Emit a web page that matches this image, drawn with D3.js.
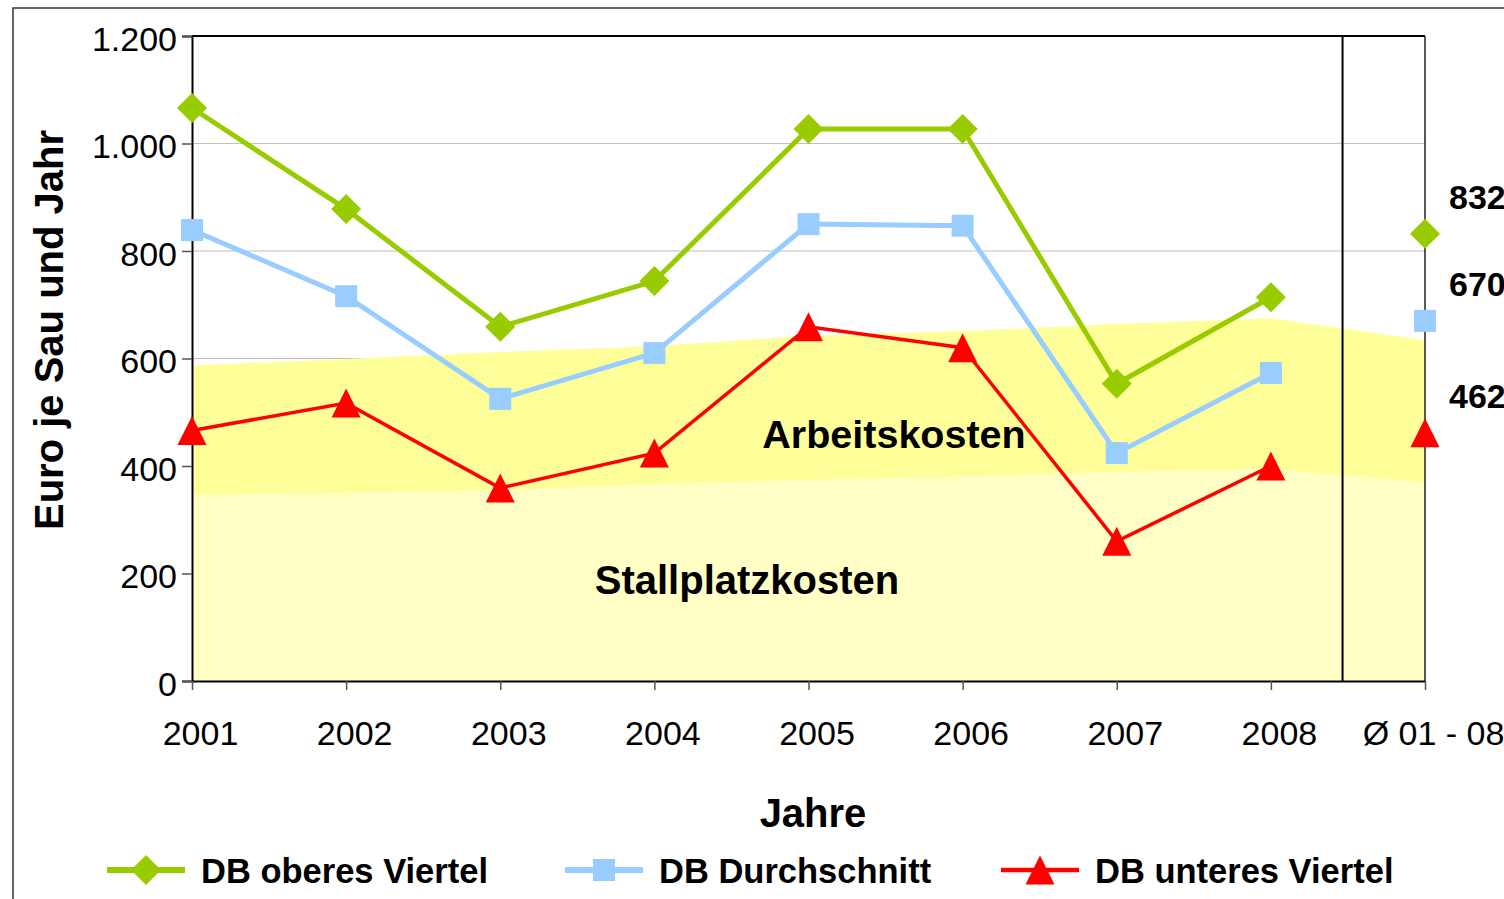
<!DOCTYPE html>
<html>
<head>
<meta charset="utf-8">
<script src="https://cdn.jsdelivr.net/npm/d3@7"></script>
<style>
  body { margin: 0; background: #fff; }
  #canvas { width: 1504px; height: 899px; }
  text { font-family: "Liberation Sans", Arial, Helvetica, sans-serif; }
</style>
</head>
<body>
<div id="canvas"></div>
<script>
// data
var years = ['2001', '2002', '2003', '2004', '2005', '2006', '2007', '2008', 'Ø 01 - 08'];
var oberesViertel = [1066, 878, 659, 744, 1027, 1027, 553, 714, 832];
var durchschnitt = [839, 716, 525, 610, 850, 847, 424, 573, 670];
var unteresViertel = [466, 517, 359, 424, 659, 620, 260, 400, 462];
var stallplatzkosten = [346, 350, 355, 366, 374, 380, 389, 394, 370];
var arbeitskosten = [241, 249, 257, 257, 268, 271, 275, 281, 264];
var yTicks = [0, 200, 400, 600, 800, 1000, 1200];
var avgLabels = ['832', '670', '462'];

var svg = d3.select('#canvas').append('svg')
  .attr('width', 1504)
  .attr('height', 899);

var de = d3.formatLocale({decimal: ',', thousands: '.', grouping: [3], currency: ['', ' €']});
var fmt = de.format(',d');

// plot box (window.top is reserved, so own names)
var plotLeft = 192, plotRight = 1425, plotTop = 36, plotBottom = 681;

var x = d3.scalePoint().domain(years).range([plotLeft, plotRight]);
var y = d3.scaleLinear().domain([0, 1200]).range([plotBottom, plotTop]);
var step = x.step();

// marker shapes like the spreadsheet ones
var diamond = {
  draw: function (ctx, size) {
    var r = Math.sqrt(size / 2);
    ctx.moveTo(0, -r); ctx.lineTo(r, 0); ctx.lineTo(0, r); ctx.lineTo(-r, 0); ctx.closePath();
  }
};
var triangle = {
  draw: function (ctx, size) {
    var w = Math.sqrt(size);
    ctx.moveTo(0, -w / 2); ctx.lineTo(w / 2, w / 2); ctx.lineTo(-w / 2, w / 2); ctx.closePath();
  }
};

// outer frame
svg.append('rect')
  .attr('x', 13).attr('y', 8)
  .attr('width', 1600).attr('height', 1000)
  .attr('fill', 'none').attr('stroke', '#333').attr('stroke-width', 1.5);

// grid lines
svg.append('g').selectAll('line').data(yTicks.slice(1, -1)).enter().append('line')
  .attr('x1', plotLeft).attr('x2', plotRight)
  .attr('y1', function (d) { return y(d); })
  .attr('y2', function (d) { return y(d); })
  .attr('stroke', '#c0c0c0').attr('stroke-width', 1);

// stacked cost areas
var stackData = years.map(function (d, i) {
  return {year: d, stall: stallplatzkosten[i], arbeit: arbeitskosten[i]};
});
var series = d3.stack().keys(['stall', 'arbeit'])(stackData);
var area = d3.area()
  .x(function (d) { return x(d.data.year); })
  .y0(function (d) { return y(d[0]); })
  .y1(function (d) { return y(d[1]); });
var areaColors = {stall: '#ffffc6', arbeit: '#ffff99'};
svg.append('g').selectAll('path').data(series).enter().append('path')
  .attr('d', area)
  .attr('fill', function (d) { return areaColors[d.key]; });

// area labels
svg.append('text').attr('x', 894).attr('y', 448)
  .attr('text-anchor', 'middle').attr('font-size', 39.5).attr('font-weight', 'bold')
  .text('Arbeitskosten');
svg.append('text').attr('x', 747).attr('y', 594)
  .attr('text-anchor', 'middle').attr('font-size', 40).attr('font-weight', 'bold')
  .text('Stallplatzkosten');

// plot frame
svg.append('line').attr('x1', plotLeft).attr('x2', plotRight).attr('y1', plotTop).attr('y2', plotTop)
  .attr('stroke', '#000').attr('stroke-width', 2);
svg.append('line').attr('x1', plotRight).attr('x2', plotRight).attr('y1', plotTop).attr('y2', plotBottom)
  .attr('stroke', '#222').attr('stroke-width', 1.5);
var sepX = x('2008') + step * 0.465;
svg.append('line').attr('x1', sepX).attr('x2', sepX).attr('y1', plotTop).attr('y2', plotBottom)
  .attr('stroke', '#000').attr('stroke-width', 2);

// y axis
var yAxis = svg.append('g')
  .attr('transform', 'translate(' + plotLeft + ',0)')
  .call(d3.axisLeft(y).tickValues(yTicks).tickFormat(fmt).tickSize(10).tickPadding(5));
yAxis.select('.domain').attr('stroke', '#000').attr('stroke-width', 2);
yAxis.selectAll('.tick line').attr('stroke', '#555').attr('stroke-width', 1.5);
yAxis.selectAll('.tick text').attr('font-size', 34).attr('fill', '#000')
  .attr('dy', '0.42em')
  .attr('font-family', '"Liberation Sans", Arial, sans-serif');

// x axis
var xAxis = svg.append('g')
  .attr('transform', 'translate(0,' + plotBottom + ')')
  .call(d3.axisBottom(x).tickSize(9).tickPadding(31).tickSizeOuter(0));
xAxis.select('.domain').attr('stroke', '#000').attr('stroke-width', 2);
xAxis.selectAll('.tick line').attr('stroke', '#555').attr('stroke-width', 1.5);
xAxis.selectAll('.tick text').attr('font-size', 34).attr('fill', '#000')
  .attr('dx', 8)
  .attr('font-family', '"Liberation Sans", Arial, sans-serif');

// axis titles
svg.append('text').attr('x', 813).attr('y', 827)
  .attr('text-anchor', 'middle').attr('font-size', 40).attr('font-weight', 'bold')
  .text('Jahre');
svg.append('text')
  .attr('transform', 'translate(63,330) rotate(-90)')
  .attr('text-anchor', 'middle').attr('font-size', 40).attr('font-weight', 'bold')
  .text('Euro je Sau und Jahr');

// lines and markers
var lineSeries = [
  {name: 'DB oberes Viertel', values: oberesViertel, color: '#99cc00', width: 5, shape: diamond, size: 450},
  {name: 'DB Durchschnitt', values: durchschnitt, color: '#99ccff', width: 5, shape: d3.symbolSquare, size: 484},
  {name: 'DB unteres Viertel', values: unteresViertel, color: '#ff0000', width: 3.5, shape: triangle, size: 841}
];

var line = d3.line()
  .x(function (d) { return x(d.year); })
  .y(function (d) { return y(d.value); });

lineSeries.forEach(function (s) {
  var pts = years.map(function (yr, i) { return {year: yr, value: s.values[i]}; });
  svg.append('path')
    .datum(pts.slice(0, 8))
    .attr('d', line)
    .attr('fill', 'none')
    .attr('stroke', s.color)
    .attr('stroke-width', s.width)
    .attr('stroke-linejoin', 'miter');
  svg.append('g').selectAll('path').data(pts).enter().append('path')
    .attr('d', d3.symbol().type(s.shape).size(s.size))
    .attr('transform', function (d) {
      return 'translate(' + x(d.year) + ',' + y(d.value) + ')';
    })
    .attr('fill', s.color);
});

// average labels
svg.append('g').selectAll('text').data(avgLabels).enter().append('text')
  .attr('x', 1449)
  .attr('y', function (d, i) { return y(lineSeries[i].values[8]) - 37 + 12; })
  .attr('font-size', 34).attr('font-weight', 'bold')
  .text(function (d) { return d; });

// legend
var legendX = [107, 565, 1001];
var legend = svg.append('g').selectAll('g').data(lineSeries).enter().append('g')
  .attr('transform', function (d, i) { return 'translate(' + legendX[i] + ',870)'; });
legend.append('line')
  .attr('x1', 0).attr('x2', 78).attr('y1', 0).attr('y2', 0)
  .attr('stroke', function (d) { return d.color; })
  .attr('stroke-width', function (d) { return d.width + 1; });
legend.append('path')
  .attr('d', function (d) { return d3.symbol().type(d.shape).size(d.size)(); })
  .attr('transform', 'translate(39,0)')
  .attr('fill', function (d) { return d.color; });
legend.append('text')
  .attr('x', 94).attr('y', 13)
  .attr('font-size', 34.5).attr('font-weight', 'bold')
  .text(function (d) { return d.name; });
</script>
</body>
</html>
